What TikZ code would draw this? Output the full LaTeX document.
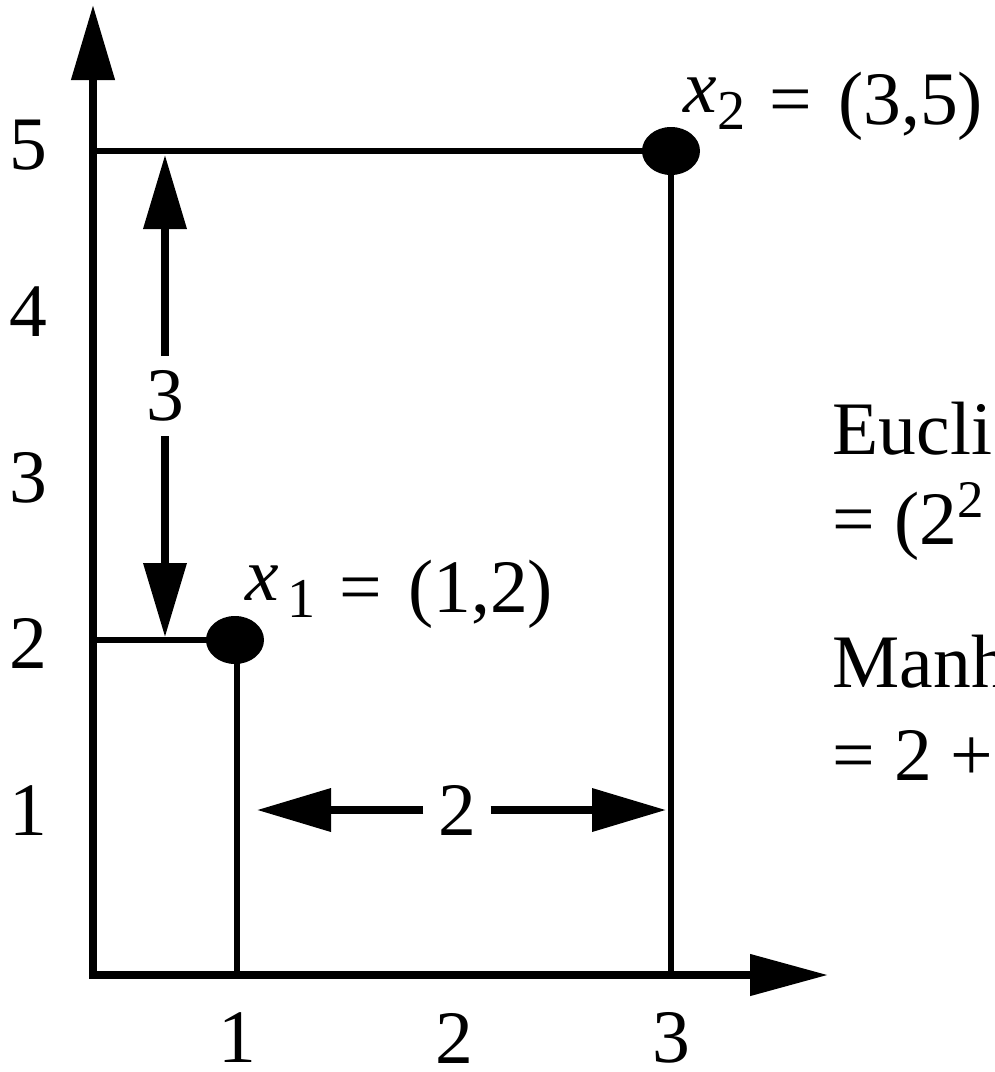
\documentclass[tikz,border=0pt]{standalone}
\usepackage{fontspec}
\setmainfont{Liberation Serif}
\usetikzlibrary{arrows.meta,shapes.geometric,positioning}
\newcommand{\ptlabel}[3]{\raisebox{3.3pt}{\textit{x}}\hspace{#3}\raisebox{-1.7pt}{\fontsize{16}{16}\selectfont #1}\hspace{6.8pt}=\hspace{7.5pt}#2}

\begin{document}
\begin{tikzpicture}[x=0.1mm, y=-0.1mm,
    axis/.style={line width=2.2pt, line join=miter, {Triangle[length=7.5mm, width=4.2mm]}-{Triangle[length=7.8mm, width=4mm]}},
    guide/.style={line width=1.7pt},
    dim/.style={line width=2pt, -{Triangle[length=7.4mm, width=4.2mm]}},
    pt/.style={ellipse, fill=black, minimum width=5.8mm, minimum height=4.8mm, inner sep=0pt},
    lbl/.style={font=\fontsize{21.5}{25}\selectfont, inner sep=0pt},
    dimlbl/.style={font=\fontsize{21.5}{25}\selectfont, inner sep=4pt}
  ]
    \useasboundingbox (0,0) rectangle (994,1072);
    \clip (0,0) rectangle (994,1072);

    % axes
    \coordinate (o) at (93,975);
    \coordinate (ytip) at (93,5);
    \coordinate (xtip) at (828,975);
    \draw[axis] (ytip) -- (o) -- (xtip);

    % the two points
    \node[pt] (p2) at (671,151) {};
    \node[pt] (p1) at (235,640) {};
    \draw[guide] (o |- p2) -- (p2.center) -- (p2.center |- o);
    \draw[guide] (o |- p1) -- (p1.center);
    \draw[guide] (p1.center) ++(2,0) coordinate (p1b) -- (p1b |- o);

    \node[lbl, anchor=base west] (l2) at (683,124) {\ptlabel{2}{(3,5)}{0pt}};
    \node[lbl, anchor=base west] (l1) at (245,612) {\ptlabel{1}{(1,2)}{2.3pt}};

    % tick labels
    \foreach \v/\py in {1/811,2/643,3/478,4/312,5/145}
      \node[lbl] (y\v) at (28,\py) {\v};
    \foreach \v/\px in {1/237,2/454,3/671}
      \node[lbl] (x\v) at (\px,1038) {\v};

    % vertical distance
    \node[dimlbl] (d3) at (165,396) {3};
    \coordinate (d3t) at (165,155);
    \coordinate (d3b) at (165,637);
    \draw[dim] (d3) -- (d3t);
    \draw[dim] (d3) -- (d3b);

    % horizontal distance
    \node[dimlbl] (d2) at (457,810) {2};
    \coordinate (d2l) at (257,810);
    \coordinate (d2r) at (666,810);
    \draw[dim] (d2) -- (d2l);
    \draw[dim] (d2) -- (d2r);

    % distances (cut off at the edge)
    \node[lbl, anchor=base west] (e1) at (832,454) {Eucli};
    \node[lbl, anchor=base west] (e2) at (832,544) {= (2\textsuperscript{2}};
    \node[lbl, anchor=base west] (m1) at (832,687) {Manh};
    \node[lbl, anchor=base west] (m2) at (832,780) {= 2 +};
  \end{tikzpicture}
\end{document}
